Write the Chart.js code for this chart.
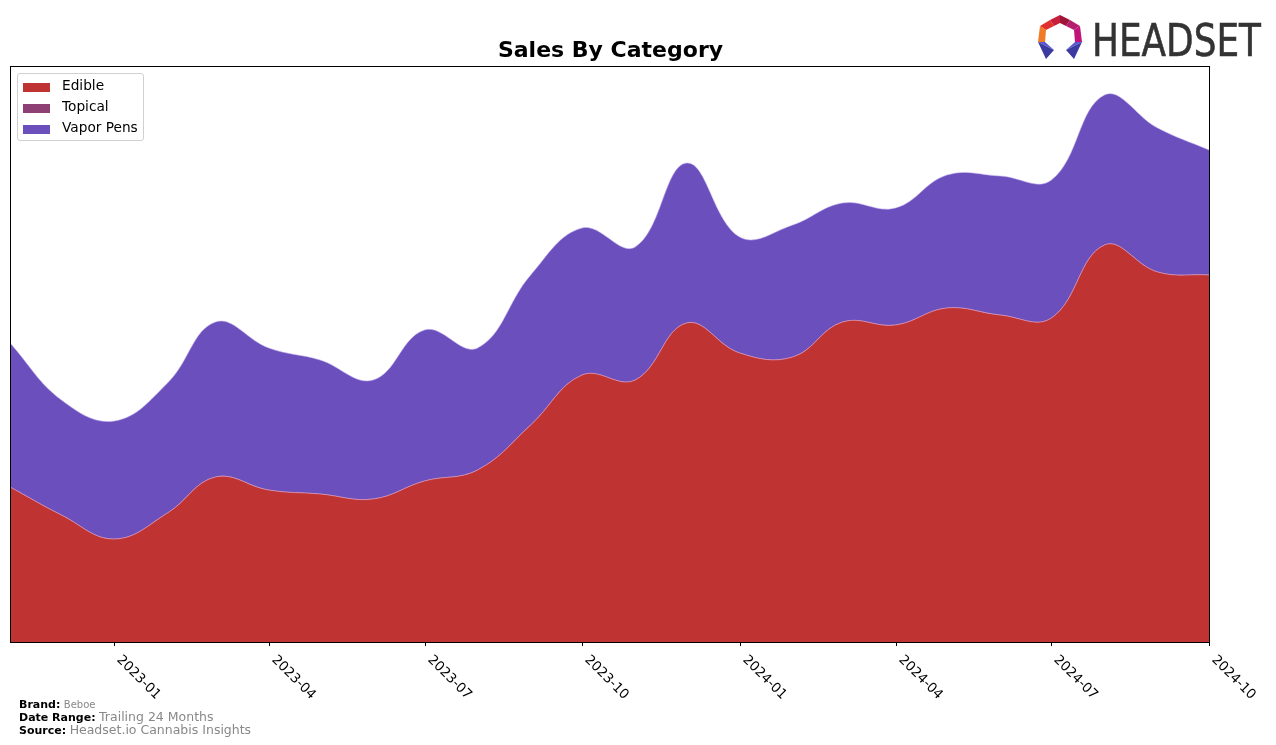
<!DOCTYPE html>
<html>
<head>
<meta charset="utf-8">
<script src="https://cdn.jsdelivr.net/npm/chart.js@4.4.1/dist/chart.umd.min.js"></script>
<style>
  body { margin: 0; background: #fff; font-family: "DejaVu Sans", sans-serif; }
  #wrap { position: relative; width: 1276px; height: 745px; }
  #legend { position: absolute; left: 17px; top: 73px; width: 125px; height: 66px;
    border: 1px solid #d0d0d0; border-radius: 3px; background: rgba(255,255,255,0.8); font-size: 13.7px; }
  .item { position: absolute; left: 5px; height: 16px; }
  .item span.sw { position: absolute; left: 0; top: 4px; width: 27px; height: 9px; }
  .item span.lb { position: absolute; left: 39px; top: -2px; white-space: nowrap; color: #000; }
  #footer { position: absolute; left: 19px; top: 699px; font-size: 11px; line-height: 12px; }
  #footer b { color: #000; }
  #footer .g { color: #888; }
  #logo { position: absolute; left: 1036px; top: 12px; }
</style>
</head>
<body>
<div id="wrap">
  <canvas id="chart"></canvas>
  <div id="legend">
    <div class="item" style="top:5px"><span class="sw" style="background:#c03333"></span><span class="lb">Edible</span></div>
    <div class="item" style="top:26px"><span class="sw" style="background:#8e3f73"></span><span class="lb">Topical</span></div>
    <div class="item" style="top:47px"><span class="sw" style="background:#6a4fbd"></span><span class="lb">Vapor Pens</span></div>
  </div>
  <svg id="logo" width="230" height="52" viewBox="0 0 230 52">
    <polygon points="24,3 14,8 18,14 24,11" fill="#c8203a"/>
    <polygon points="24,3 34,8 30,14 24,11" fill="#a0143a"/>
    <polygon points="14,8 4,14 10,18 18,14" fill="#e0302e"/>
    <polygon points="34,8 44,14 38,18 30,14" fill="#b51e6e"/>
    <polygon points="4,14 2,30 9,30 10,18" fill="#f07a25"/>
    <polygon points="44,14 46,30 39,30 38,18" fill="#c0147a"/>
    <polygon points="2,30 9,30 18,38" fill="#5a58d0"/>
    <polygon points="46,30 39,30 30,38" fill="#5a58d0"/>
    <polygon points="2,30 18,38 10,47" fill="#3a3aa0"/>
    <polygon points="46,30 30,38 38,47" fill="#3a3aa0"/>
    <text x="56" y="44" font-family="'DejaVu Sans', sans-serif" font-size="44" fill="#333" stroke="#333" stroke-width="0.6" textLength="169" lengthAdjust="spacingAndGlyphs">HEADSET</text>
  </svg>
  <div id="footer">
    <div><b>Brand:</b> <span class="g" style="font-size:10px">Beboe</span></div>
    <div><b>Date Range:</b> <span class="g" style="font-size:12.5px">Trailing 24 Months</span></div>
    <div><b>Source:</b> <span class="g" style="font-size:12.5px">Headset.io Cannabis Insights</span></div>
  </div>
</div>
<script>
const months = ["2022-11","2022-12","2023-01","2023-02","2023-03","2023-04","2023-05","2023-06",
  "2023-07","2023-08","2023-09","2023-10","2023-11","2023-12","2024-01","2024-02",
  "2024-03","2024-04","2024-05","2024-06","2024-07","2024-08","2024-09","2024-10"];
const edible = [155,127,103,129,165,152,148,143,161,172,217,267,262,319,289,285,320,317,334,327,324,397,370,367];
const topical = [0,0,0,0,0,0,0,0,0,0,0,0,0,0,0,0,0,0,0,0,0,0,0,0];
const vaporPens = [144,115,118,130,155,142,134,119,151,122,150,147,133,160,116,132,119,117,133,139,138,150,144,125];
const tickLabels = ["2023-01","2023-04","2023-07","2023-10","2024-01","2024-04","2024-07","2024-10"];

const DAY = 86400000;
function dayNum(m) {
  const [y, mo] = m.split("-").map(Number);
  return Date.UTC(y, mo - 1, 1) / DAY;
}
const xs = months.map(dayNum);
const pts = arr => arr.map((v, i) => ({ x: xs[i], y: v }));

const frame = {
  id: "frame",
  afterDraw(chart) {
    const ctx = chart.ctx, a = chart.chartArea, sx = chart.scales.x;
    ctx.save();
    ctx.strokeStyle = "#000";
    ctx.lineWidth = 1;
    ctx.strokeRect(a.left + 0.5, a.top + 0.5, a.right - a.left, a.bottom - a.top);
    ctx.fillStyle = "#000";
    ctx.font = "13.4px 'DejaVu Sans'";
    tickLabels.forEach(t => {
      const px = Math.round(sx.getPixelForValue(dayNum(t))) + 0.5;
      ctx.beginPath();
      ctx.moveTo(px, a.bottom);
      ctx.lineTo(px, a.bottom + 4);
      ctx.stroke();
      ctx.save();
      ctx.translate(px + 9, a.bottom + 11);
      ctx.rotate(Math.PI / 4);
      ctx.textAlign = "left";
      ctx.textBaseline = "top";
      ctx.fillText(t, 0, 0);
      ctx.restore();
    });
    ctx.font = "bold 22px 'DejaVu Sans'";
    ctx.textAlign = "center";
    ctx.textBaseline = "alphabetic";
    ctx.fillText("Sales By Category", (a.left + a.right) / 2 + 1, 57);
    ctx.restore();
  }
};

new Chart(document.getElementById("chart"), {
  type: "line",
  data: {
    datasets: [
      { label: "Edible", data: pts(edible), backgroundColor: "#c03333", borderColor: "rgba(220,160,200,0.7)", fill: "origin" },
      { label: "Topical", data: pts(topical), backgroundColor: "#8e3f73", borderColor: "rgba(220,160,200,0.7)", fill: "-1" },
      { label: "Vapor Pens", data: pts(vaporPens), backgroundColor: "#6a4fbd", borderColor: "rgba(200,180,240,0.7)", fill: "-1" }
    ]
  },
  options: {
    responsive: true,
    maintainAspectRatio: false,
    animation: false,
    layout: { padding: { left: 10, top: 66, right: 67, bottom: 103 } },
    elements: { point: { radius: 0 }, line: { tension: 0.4, borderWidth: 0.8 } },
    plugins: { legend: { display: false }, tooltip: { enabled: false } },
    scales: {
      x: { type: "linear", display: false, min: xs[0], max: xs[xs.length - 1] },
      y: { display: false, stacked: true, min: 0, max: 576 }
    }
  },
  plugins: [frame]
});
</script>
</body>
</html>
